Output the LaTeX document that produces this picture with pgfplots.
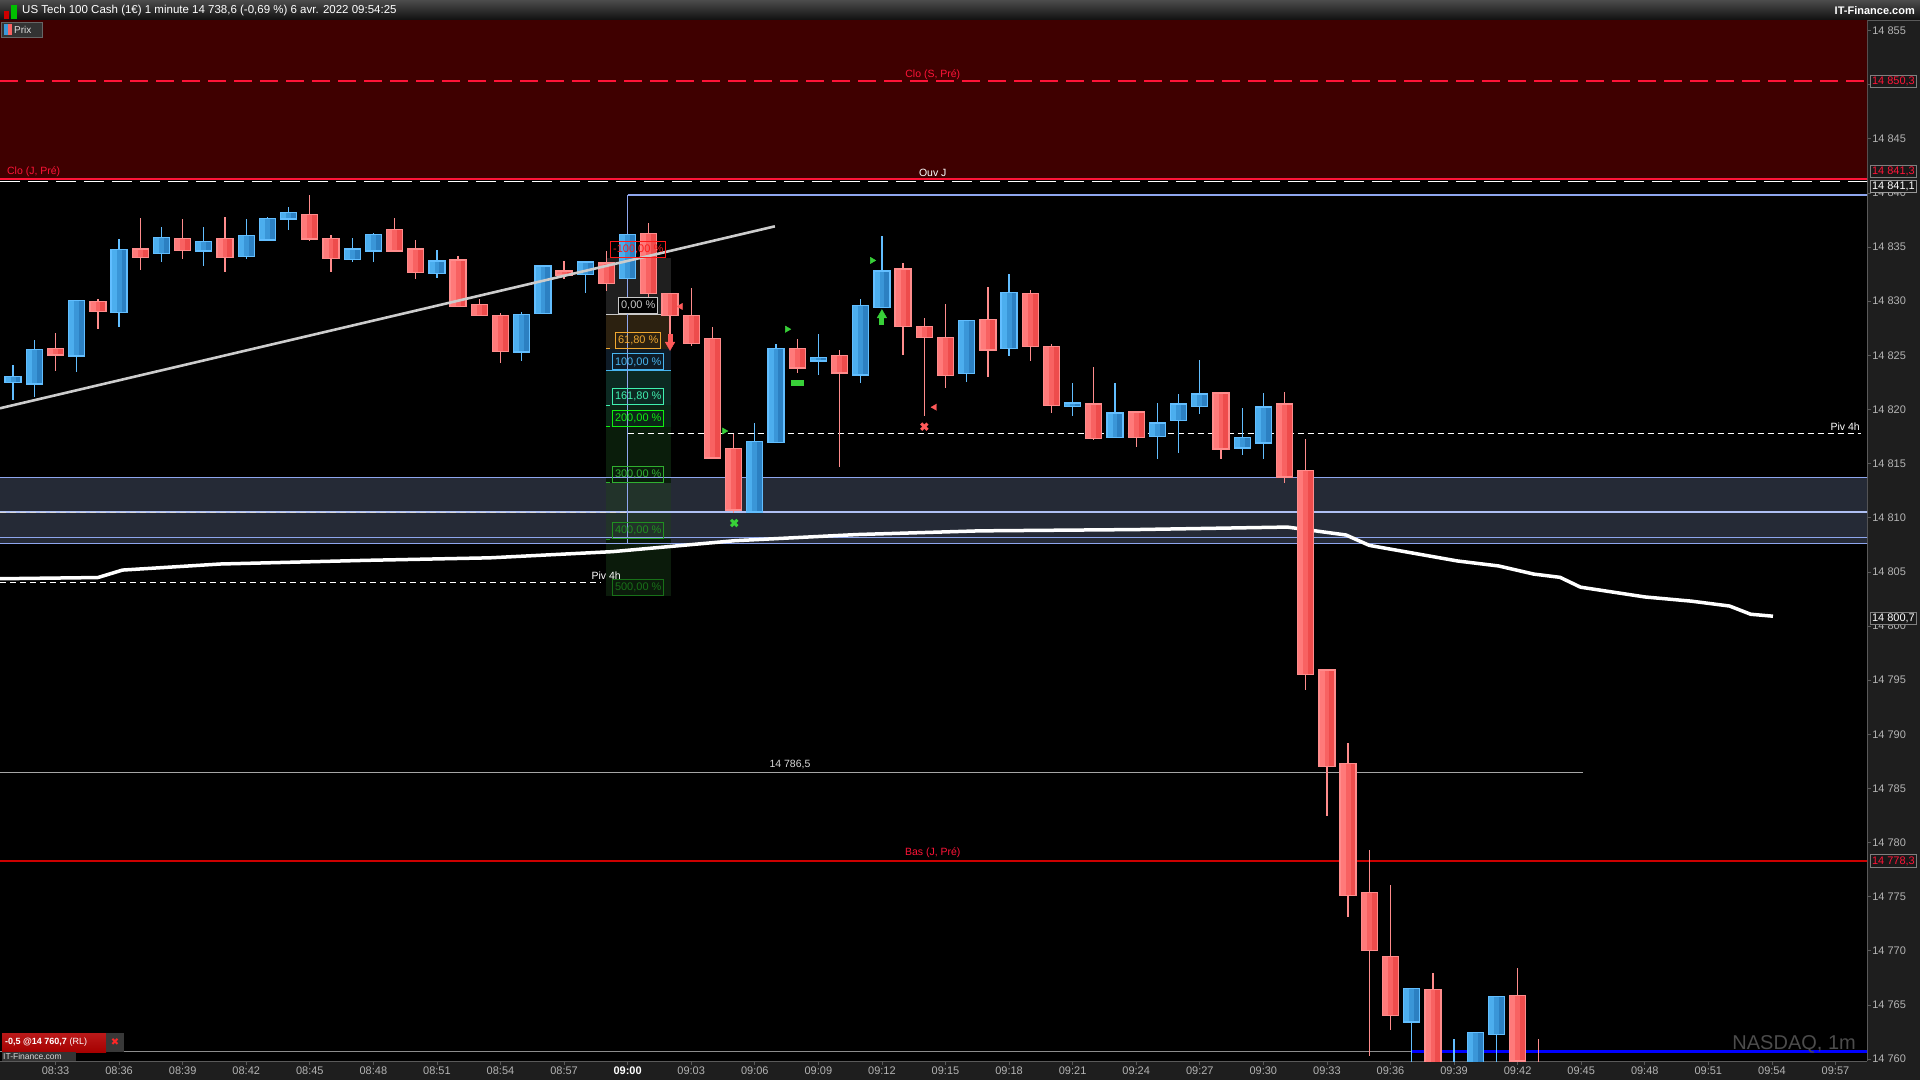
\documentclass[border=0pt]{standalone}
\usepackage{pgfplots}
\pgfplotsset{compat=1.18}
\usepackage{pgfplotstable}
\usepackage{fontspec}
\setmainfont{Liberation Sans}
\newfontfamily\djv{DejaVu Sans}
\definecolor{upA}{HTML}{4CAEEE}
\definecolor{upB}{HTML}{3A96D8}
\definecolor{upC}{HTML}{2C80C2}
\definecolor{upedge}{HTML}{62BEFF}
\definecolor{dnA}{HTML}{FF7A7A}
\definecolor{dnB}{HTML}{F86262}
\definecolor{dnC}{HTML}{EE4C4C}
\definecolor{dnedge}{HTML}{FF8C8C}
\definecolor{upfill}{HTML}{3C98D8}
\definecolor{dnfill}{HTML}{F86262}
\definecolor{zonered}{HTML}{3F0000}
\definecolor{slate}{HTML}{252A36}
\definecolor{lvl}{HTML}{8EA6EE}
\definecolor{lvl2}{HTML}{AFC0F4}
\definecolor{dred}{HTML}{FF1438}
\definecolor{panel}{HTML}{1E1E1E}
\definecolor{axgray}{HTML}{5A5A5A}
\definecolor{tickgray}{HTML}{B4B4B4}
\definecolor{fzA}{HTML}{1F1F1F}
\definecolor{fzB}{HTML}{2C2110}
\definecolor{fzC}{HTML}{0E1B27}
\definecolor{fzD}{HTML}{0C2922}
\definecolor{fzE}{HTML}{0B2617}
\definecolor{fzF}{HTML}{0A1D0B}
\definecolor{fzG}{HTML}{22332A}
\definecolor{fzH}{HTML}{0B1B0B}
\definecolor{fl1}{HTML}{FF1A1A}
\definecolor{fl2}{HTML}{C8C8C8}
\definecolor{fl3}{HTML}{F0A830}
\definecolor{fl4}{HTML}{48B4F0}
\definecolor{fl5}{HTML}{40F0B0}
\definecolor{fl6}{HTML}{10F010}
\definecolor{fl7}{HTML}{30B030}
\definecolor{fl8}{HTML}{209020}
\definecolor{fl9}{HTML}{187018}
\definecolor{mkgreen}{HTML}{38D038}
\definecolor{mkred}{HTML}{FF5A5A}

\pgfplotstableread{
t o h l c
-29 14822.54 14824.10 14820.84 14822.95
-28 14822.39 14826.39 14821.15 14825.46
-26 14824.99 14830.10 14823.44 14830.02
-24 14828.99 14835.69 14827.57 14834.67
-22 14834.48 14836.84 14833.61 14835.78
-20 14834.67 14836.84 14833.24 14835.41
-18 14834.20 14837.58 14833.89 14835.97
-17 14835.69 14837.77 14835.60 14837.55
-16 14837.64 14838.70 14836.56 14838.11
-13 14833.92 14835.78 14833.61 14834.76
-12 14834.67 14836.28 14833.61 14836.06
-9 14832.62 14834.70 14832.12 14833.64
-5 14825.37 14828.99 14824.50 14828.71
-4 14828.90 14833.30 14828.80 14833.18
-2 14832.53 14833.60 14830.73 14833.55
0 14832.16 14836.20 14832.00 14836.06
6 14810.57 14818.70 14810.50 14816.99
7 14816.99 14826.02 14816.90 14825.55
9 14824.53 14826.95 14823.20 14824.71
11 14823.23 14830.20 14822.45 14829.55
12 14829.46 14836.00 14829.40 14832.71
16 14823.38 14828.20 14822.54 14828.16
18 14825.71 14832.47 14824.96 14830.76
21 14820.34 14822.39 14819.38 14820.53
23 14817.43 14822.39 14817.34 14819.60
25 14817.55 14820.62 14815.38 14818.67
26 14819.01 14821.46 14815.94 14820.43
27 14820.34 14824.56 14819.60 14821.37
29 14816.50 14820.16 14815.75 14817.34
30 14816.96 14821.55 14815.38 14820.16
37 14763.49 14766.61 14758.00 14766.49
39 14756.00 14761.86 14755.00 14758.50
40 14756.50 14762.50 14755.00 14762.43
41 14762.32 14765.88 14757.00 14765.73
}\upc

\pgfplotstableread{
t o h l c
-27 14825.55 14827.04 14823.54 14825.09
-25 14829.92 14830.23 14827.38 14829.09
-23 14834.76 14837.68 14832.87 14834.11
-21 14835.69 14837.58 14833.89 14834.76
-19 14835.69 14837.77 14832.68 14834.11
-15 14837.92 14839.81 14835.57 14835.78
-14 14835.69 14836.06 14832.68 14834.02
-11 14836.53 14837.68 14834.54 14834.67
-10 14834.76 14835.60 14832.03 14832.71
-8 14833.74 14834.20 14829.45 14829.55
-7 14829.64 14830.20 14828.60 14828.71
-6 14828.62 14828.90 14824.31 14825.43
-3 14832.71 14833.74 14832.06 14832.47
-1 14833.46 14834.61 14830.92 14831.69
1 14836.16 14837.21 14830.36 14830.76
2 14830.67 14830.75 14826.95 14828.71
3 14828.62 14831.23 14825.89 14826.17
4 14826.48 14827.60 14815.50 14815.57
5 14816.34 14817.71 14810.42 14810.76
8 14825.55 14826.48 14823.32 14823.88
10 14824.90 14825.46 14814.64 14823.41
13 14832.90 14833.55 14825.00 14827.69
14 14827.60 14828.47 14819.38 14826.67
15 14826.58 14829.77 14821.99 14823.20
17 14828.25 14831.26 14823.01 14825.55
19 14830.67 14830.98 14824.50 14825.89
20 14825.74 14826.02 14819.66 14820.40
22 14820.43 14823.91 14817.15 14817.34
24 14819.69 14819.88 14816.50 14817.43
28 14821.46 14821.50 14815.38 14816.40
31 14820.43 14821.64 14813.20 14813.80
32 14814.30 14817.29 14794.09 14795.57
33 14795.88 14796.00 14782.48 14787.11
34 14787.22 14789.23 14773.17 14775.15
35 14775.34 14779.29 14760.27 14770.10
36 14769.45 14776.10 14762.73 14764.06
38 14766.38 14767.94 14756.00 14758.00
42 14765.85 14768.43 14757.00 14759.89
43 14759.50 14761.86 14757.00 14758.50
}\dnc

\pgfplotstableread{
t v
-29.62 14804.36
-25.00 14804.47
-23.84 14805.16
-19.22 14805.72
-12.29 14806.06
-6.51 14806.29
-0.73 14806.86
5.05 14807.87
10.82 14808.44
16.60 14808.78
24.00 14808.90
31.13 14809.13
33.90 14808.40
35.00 14807.44
39.16 14806.00
41.10 14805.54
42.76 14804.79
44.00 14804.49
44.97 14803.58
48.00 14802.68
50.20 14802.29
52.00 14801.84
53.00 14801.08
54.05 14800.90
}\vwap

% #1 table, #2 edge, #3 light, #4 mid, #5 dark
\newcommand\candles[5]{%
 \addplot[draw=none, mark=none, forget plot, error bars/.cd, y dir=both, y explicit, error mark=none,
   error bar style={draw=#2, line width=1.3pt}]
   table[x=t, y expr={\thisrow{l}+(\thisrow{h}-\thisrow{l})/2}, y error expr={(\thisrow{h}-\thisrow{l})/2}] {#1};
 \addplot[draw=none, mark=none, forget plot, error bars/.cd, y dir=both, y explicit, error mark=none,
   error bar style={draw=#2, line width=17.3pt}]
   table[x=t, y expr={\thisrow{o}+(\thisrow{c}-\thisrow{o})/2}, y error expr={abs(\thisrow{c}-\thisrow{o})/2+0.12}] {#1};
 \addplot[draw=none, mark=none, forget plot, error bars/.cd, y dir=both, y explicit, error mark=none,
   error bar style={draw=#3, line width=14.7pt}]
   table[x=t, y expr={\thisrow{o}+(\thisrow{c}-\thisrow{o})/2}, y error expr={abs(\thisrow{c}-\thisrow{o})/2}] {#1};
 \addplot[draw=none, mark=none, forget plot, error bars/.cd, y dir=both, y explicit, error mark=none,
   error bar style={draw=#4, line width=9.7pt}]
   table[x expr={\thisrow{t}+0.118}, y expr={\thisrow{o}+(\thisrow{c}-\thisrow{o})/2}, y error expr={abs(\thisrow{c}-\thisrow{o})/2}] {#1};
 \addplot[draw=none, mark=none, forget plot, error bars/.cd, y dir=both, y explicit, error mark=none,
   error bar style={draw=#5, line width=4.9pt}]
   table[x expr={\thisrow{t}+0.231}, y expr={\thisrow{o}+(\thisrow{c}-\thisrow{o})/2}, y error expr={abs(\thisrow{c}-\thisrow{o})/2}] {#1};
}
\newcommand\zone[5]{\addplot[fill=#1, draw=none, forget plot] coordinates {(#2,#4)(#3,#4)(#3,#5)(#2,#5)} -- cycle;}
\newcommand\hl[4]{\addplot[#1, forget plot] coordinates {(#2,#4)(#3,#4)};}

\begin{document}
\begin{tikzpicture}[x=1pt,y=1pt]
\path[use as bounding box, fill=black] (0,0) rectangle (1920,1080);
\fill[panel] (1867,0) rectangle (1920,1059);
\fill[panel] (0,0) rectangle (1920,19);
\shade[top color=black!70, bottom color=black!95] (0,1059) rectangle (1920,1080);
\draw[axgray, line width=1pt] (0,1059) -- (1920,1059);

\begin{axis}[
  at={(0pt,19pt)}, anchor=south west,
  width=1867pt, height=1040pt, scale only axis,
  xmin=-29.62, xmax=58.49, ymin=14759.83, ymax=14855.86,
  enlargelimits=false,
  axis background/.style={fill=black},
  axis x line*=bottom, axis y line*=right,
  axis line style={draw=axgray, line width=1pt},
  tick align=outside, major tick length=4pt,
  tick style={draw=axgray, line width=0.8pt},
  xtick={-27,-24,...,57},
  xticklabels={08:33,08:36,08:39,08:42,08:45,08:48,08:51,08:54,08:57,{\textbf{\textcolor{white}{09:00}}},09:03,09:06,09:09,09:12,09:15,09:18,09:21,09:24,09:27,09:30,09:33,09:36,09:39,09:42,09:45,09:48,09:51,09:54,09:57},
  ytick={14760,14765,...,14855},
  yticklabels={14 760,14 765,14 770,14 775,14 780,14 785,14 790,14 795,14 800,14 805,14 810,14 815,14 820,14 825,14 830,14 835,14 840,14 845,{},14 855},
  ticklabel style={font=\fontsize{11}{12}\selectfont, text=tickgray},
  xticklabel style={inner sep=1pt, yshift=-1pt},
  yticklabel style={inner sep=1pt},
  clip mode=individual,
]
% zones
\zone{zonered}{-30}{59}{14841.3}{14856}
\zone{slate}{-30}{59}{14807.65}{14813.7}
\zone{fzA}{-1.02}{2.03}{14828.8}{14834.0}
\zone{fzB}{-1.02}{2.03}{14825.59}{14828.8}
\zone{fzC}{-1.02}{2.03}{14823.6}{14825.59}
\zone{fzD}{-1.02}{2.03}{14820.39}{14823.6}
\zone{fzE}{-1.02}{2.03}{14818.4}{14820.39}
\zone{fzF}{-1.02}{2.03}{14813.2}{14818.4}
\zone{fzG}{-1.02}{2.03}{14808.0}{14813.2}
\zone{fzH}{-1.02}{2.03}{14802.8}{14808.0}
% fib lines
\hl{draw=fl2, line width=1pt}{-1.02}{2.03}{14828.8}
\hl{draw=fl4, line width=1pt}{-1.02}{2.03}{14823.6}
\hl{draw=fl3, line width=1pt}{-1.02}{-0.82}{14825.59}
\hl{draw=fl5, line width=1pt}{-1.02}{-0.82}{14820.39}
\hl{draw=fl6, line width=1pt}{-1.02}{-0.82}{14818.4}
\hl{draw=fl7, line width=1pt}{-1.02}{-0.82}{14813.2}
\hl{draw=fl8, line width=1pt}{-1.02}{-0.82}{14808.0}
% level lines
\hl{draw=lvl, line width=1.2pt}{-30}{59}{14813.7}
\hl{draw=lvl2, line width=1.2pt}{-30}{59}{14810.53}
\hl{draw=lvl, line width=1.2pt}{-30}{59}{14808.16}
\hl{draw=lvl, line width=1.2pt}{-30}{59}{14807.65}
\hl{draw=lvl, line width=1.2pt}{0}{59}{14839.8}
\addplot[draw=lvl, line width=1.2pt, forget plot] coordinates {(0,14839.8)(0,14807.65)};
\hl{draw=black!35, line width=1.2pt}{-30}{45.07}{14786.5}
\hl{draw=red!80!black, line width=1.2pt}{-30}{59}{14778.3}
\hl{draw=black!45, line width=1pt}{-30}{37}{14760.7}
\hl{draw=blue, line width=2.2pt}{37}{59}{14760.7}
% dashed lines
\hl{draw=dred, line width=2.4pt, dash pattern=on 18pt off 8pt}{-29.62}{59}{14850.3}
\hl{draw=dred, line width=2pt}{-29.62}{59}{14841.3}
\hl{draw=white, line width=1.6pt, dash pattern=on 20pt off 8pt}{-29.62}{59}{14841.05}
\hl{draw=white, line width=1.4pt, dash pattern=on 6pt off 4pt}{-29.62}{-1.3}{14804.0}
\hl{draw=white, line width=1.4pt, dash pattern=on 6pt off 4pt}{0}{58.2}{14817.75}
\hl{draw=black!15, line width=1.2pt, dash pattern=on 6pt off 4pt}{-29.62}{0}{14810.46}
% vwap
\addplot[white, line width=3.5pt, line join=round, forget plot] table[x=t, y=v] {\vwap};
% candles
\candles{\upc}{upedge}{upA}{upB}{upC}
\candles{\dnc}{dnedge}{dnA}{dnB}{dnC}
% trend line
\addplot[draw=black!20, line width=2.6pt, forget plot] coordinates {(-29.62,14820.1)(6.95,14836.9)};
% markers
\addplot[draw=mkred, line width=5pt, forget plot] coordinates {(2.0,14827.0)(2.0,14826.1)};
\addplot[only marks, mark=triangle*, mark size=5.5pt, mark options={rotate=180, fill=mkred, draw=mkred}, forget plot] coordinates {(2.0,14825.95)};
\addplot[draw=mkgreen, line width=5pt, forget plot] coordinates {(12.0,14827.8)(12.0,14828.5)};
\addplot[only marks, mark=triangle*, mark size=5.5pt, mark options={fill=mkgreen, draw=mkgreen}, forget plot] coordinates {(12.0,14828.7)};
\addplot[only marks, mark=triangle*, mark size=3.6pt, mark options={rotate=-90, fill=mkgreen, draw=mkgreen}, forget plot] coordinates {(4.56,14818.0) (7.53,14827.4) (11.54,14833.75)};
\addplot[only marks, mark=triangle*, mark size=3.6pt, mark options={rotate=90, fill=mkred, draw=mkred}, forget plot] coordinates {(2.5,14829.5) (14.49,14820.2)};
\addplot[only marks, mark=x, mark size=4.5pt, mark options={draw=mkgreen, line width=3pt}, forget plot] coordinates {(5.03,14809.5)};
\addplot[only marks, mark=x, mark size=4.5pt, mark options={draw=mkred, line width=3pt}, forget plot] coordinates {(14.0,14818.4)};
\addplot[draw=mkgreen, line width=6pt, forget plot] coordinates {(7.7,14822.4)(8.3,14822.4)};
% text labels
\begin{scope}[every node/.style={font=\fontsize{10.5}{12}\selectfont, inner sep=1pt}]
\node[text=dred, anchor=south] at (axis cs:14.4,14850.35) {Clo (S, Pré)};
\node[text=white, anchor=south] at (axis cs:14.4,14841.4) {Ouv J};
\node[text=dred, anchor=south west] at (axis cs:-29.34,14841.4) {Clo (J, Pré)};
\node[text=white, anchor=south east] at (axis cs:-0.27,14804.2) {Piv 4h};
\node[text=white, anchor=south east] at (axis cs:58.2,14817.95) {Piv 4h};
\node[text=black!15, anchor=south] at (axis cs:7.66,14786.7) {14 786,5};
\node[text=dred, anchor=south] at (axis cs:14.4,14778.5) {Bas (J, Pré)};
\end{scope}
\coordinate (F1) at (axis cs:0.5,14834.0);
\coordinate (F2) at (axis cs:0.5,14828.8);
\coordinate (F3) at (axis cs:0.5,14825.59);
\coordinate (F4) at (axis cs:0.5,14823.6);
\coordinate (F5) at (axis cs:0.5,14820.39);
\coordinate (F6) at (axis cs:0.5,14818.4);
\coordinate (F7) at (axis cs:0.5,14813.2);
\coordinate (F8) at (axis cs:0.5,14808.0);
\coordinate (F9) at (axis cs:0.5,14802.8);
\coordinate (R1) at (axis cs:58.49,14850.3);
\coordinate (R2) at (axis cs:58.49,14841.93);
\coordinate (R3) at (axis cs:58.49,14840.58);
\coordinate (R4) at (axis cs:58.49,14800.7);
\coordinate (R5) at (axis cs:58.49,14778.3);
\end{axis}

% fib labels (on top of candles)
\begin{scope}[every node/.style={font=\fontsize{11}{12}\selectfont, line width=1pt, inner sep=2.2pt, anchor=south, minimum height=16pt}]
\node[draw=fl1, text=fl1] at (F1) {-100,00 \%};
\node[draw=fl2, text=fl2, fill=black] at (F2) {0,00 \%};
\node[draw=fl3, text=fl3] at (F3) {61,80 \%};
\node[draw=fl4, text=fl4] at (F4) {100,00 \%};
\node[draw=fl5, text=fl5] at (F5) {161,80 \%};
\node[draw=fl6, text=fl6] at (F6) {200,00 \%};
\node[draw=fl7, text=fl7] at (F7) {300,00 \%};
\node[draw=fl8, text=fl8] at (F8) {400,00 \%};
\node[draw=fl9, text=fl9] at (F9) {500,00 \%};
\end{scope}

% right axis boxes
\begin{scope}[every node/.style={font=\fontsize{11}{12}\selectfont, anchor=west, fill=black!90, draw=black!50, line width=1pt, inner sep=1.5pt}]
\node[text=dred] at ([xshift=3pt]R1) {14 850,3};
\node[text=dred] at ([xshift=3pt]R2) {14 841,3};
\node[text=white, draw=black!40] at ([xshift=3pt]R3) {14 841,1};
\node[text=white] at ([xshift=3pt]R4) {14 800,7};
\node[text=dred] at ([xshift=3pt]R5) {14 778,3};
\end{scope}

% title bar
\fill[red!80!black] (4,1061) rectangle (9,1069);
\fill[green!75!black] (11,1061) rectangle (17,1075);
\node[anchor=west, text=white, font=\fontsize{11.5}{13}\selectfont, inner sep=0pt] at (22,1069.5) {US Tech 100 Cash (1€) 1 minute 14 738,6 (-0,69 \%) 6 avr. 2022 09:54:25};
\node[anchor=east, text=white, font=\bfseries\fontsize{11}{13}\selectfont, inner sep=0pt] at (1915,1069.5) {IT-Finance.com};

% Prix legend
\draw[fill=black!80, draw=black!60] (1,1043) rectangle (42,1058);
\fill[upfill] (4,1045) rectangle (8,1056);
\fill[dnfill] (8,1045) rectangle (12,1056);
\node[anchor=west, text=black!12, font=\fontsize{10}{12}\selectfont, inner sep=0pt] at (14,1050.5) {Prix};

% watermark
\node[anchor=base east, text=black!70, font=\fontsize{20}{24}\selectfont, inner sep=0pt] at (1856,31) {NASDAQ, 1m};

% bottom-left order box
\shade[top color=red!70!black!90!white, bottom color=red!65!black] (2,28) rectangle (106,47);
\node[anchor=west, text=white, font=\fontsize{9}{11}\selectfont, inner sep=0pt] at (5,37.5) {\textbf{-0,5 @14 760,7} (RL)};
\fill[black!78] (106,28) rectangle (124,47);
\node[text=red!85!white, font=\djv\fontsize{10}{12}\selectfont, inner sep=0pt] at (115,37.5) {✖};
\fill[black!80] (2,19) rectangle (76,28);
\node[anchor=west, text=black!15, font=\fontsize{8.5}{10}\selectfont, inner sep=0pt] at (3,23.5) {IT-Finance.com};
\end{tikzpicture}
\end{document}
